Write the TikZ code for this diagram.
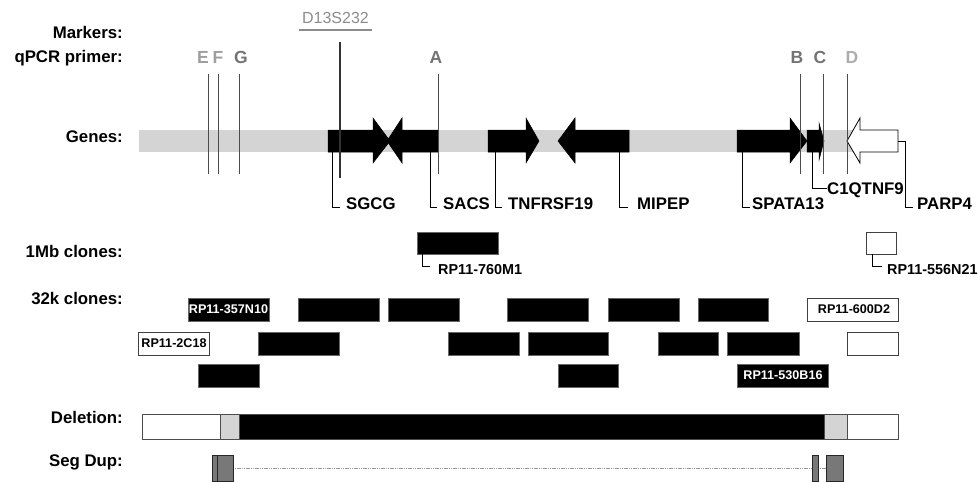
\documentclass[tikz,border=0pt]{standalone}
\usepackage{fontspec}
\setmainfont{Liberation Sans}
\definecolor{band}{gray}{0.83}
\definecolor{segfill}{gray}{0.47}
\definecolor{primlight}{gray}{0.62}
\definecolor{primdark}{gray}{0.45}
\definecolor{primD}{gray}{0.68}
\definecolor{marker}{gray}{0.55}
\begin{document}
\begin{tikzpicture}[x=1pt,y=-1pt,
  rowlab/.style={anchor=east,font=\fontsize{16.8}{18}\selectfont\bfseries,inner sep=0pt},
  genelab/.style={anchor=base west,font=\fontsize{16.8}{18}\selectfont\bfseries,inner sep=0pt},
  primer/.style={anchor=base,font=\fontsize{17.5}{18}\selectfont\bfseries,inner sep=0pt},
  clonelab/.style={anchor=base west,font=\fontsize{14.4}{16}\selectfont\bfseries,inner sep=0pt},
  boxlab/.style={font=\fontsize{12.6}{14}\selectfont\bfseries,inner sep=0pt},
  blk/.style={fill=black,draw=black!60,line width=0.8pt},
  wht/.style={fill=white,draw=black!75,line width=1pt},
  lead/.style={draw=black,line width=1pt},
  pline/.style={draw=black!70,line width=0.9pt},
  gene/.style={fill=black,draw=black,line width=0.5pt},
  seg/.style={fill=segfill,draw=black!85,line width=0.8pt},
]
\useasboundingbox (0,0) rectangle (978,482);

% row labels
\node[rowlab] (lmark) at (123,32) {Markers:};
\node[rowlab] (lqpcr) at (123,58) {qPCR primer:};
\node[rowlab] (lgene) at (123,137) {Genes:};
\node[rowlab] (l1mb)  at (123,251) {1Mb clones:};
\node[rowlab] (l32k)  at (123,299) {32k clones:};
\node[rowlab] (ldel)  at (123,417) {Deletion:};
\node[rowlab] (lseg)  at (123,462) {Seg Dup:};

% gene band
\fill[band] (139,130) rectangle (898,152);

% marker
\node[anchor=base,font=\fontsize{16}{18}\selectfont,text=marker,inner sep=0pt] (d13) at (335.5,23.5) {D13S232};
\draw[marker,line width=1.5pt] (299,30) -- (372,30);

% genes
\draw[gene] (328,130) -- (373,130) -- (373,118) -- (390,141) -- (373,163) -- (373,152) -- (328,152) -- cycle;
\draw[gene] (438,130) -- (402,130) -- (402,118) -- (387,141) -- (402,163) -- (402,152) -- (438,152) -- cycle;
\draw[gene] (488,130) -- (526,130) -- (526,118) -- (539,141) -- (526,163) -- (526,152) -- (488,152) -- cycle;
\draw[gene] (629,130) -- (575,130) -- (575,118) -- (558,141) -- (575,163) -- (575,152) -- (629,152) -- cycle;
\draw[gene] (737,130) -- (790,130) -- (790,118) -- (807,141) -- (790,163) -- (790,152) -- (737,152) -- cycle;
\draw[gene] (807,130) -- (819,130) -- (819,123) -- (824,141) -- (819,160) -- (819,152) -- (807,152) -- cycle;
\draw[fill=white,draw=black,line width=0.8pt] (898,130) -- (860,130) -- (860,118) -- (847,141) -- (860,163) -- (860,152) -- (898,152) -- cycle;

% marker line and primer lines
\draw[black!80,line width=1.4pt] (340,42) -- (340,178);
\node[primer,text=primlight] (pE) at (203,63) {E};
\node[primer,text=primlight] (pF) at (218,63) {F};
\node[primer,text=primdark]  (pG) at (241,63) {G};
\node[primer,text=primdark]  (pA) at (436,63) {A};
\node[primer,text=primdark]  (pB) at (797,63) {B};
\node[primer,text=primdark]  (pC) at (820,63) {C};
\node[primer,text=primD]     (pD) at (852,63) {D};
\foreach \x in {208,218,239,438,800,823,847}
  \draw[pline] (\x,74) -- (\x,174);

% gene labels
\node[genelab] (gSGCG) at (346,209) {SGCG};
\draw[lead] (332,152) -- (332,207) -- (340,207);
\node[genelab] (gSACS) at (443,209) {SACS};
\draw[lead] (430,152) -- (430,207) -- (437,207);
\node[genelab] (gTNF) at (508,209) {TNFRSF19};
\draw[lead] (495,152) -- (495,207) -- (502,207);
\node[genelab] (gMIP) at (637,209) {MIPEP};
\draw[lead] (619,152) -- (619,207) -- (628,207);
\node[genelab] (gSPA) at (752,209) {SPATA13};
\draw[lead] (742,152) -- (742,207) -- (750,207);
\node[genelab] (gC1Q) at (827,194) {C1QTNF9};
\draw[lead] (812,152) -- (812,188) -- (827,188);
\node[genelab] (gPARP) at (917,209) {PARP4};
\draw[lead] (898,141) -- (905,141) -- (905,207) -- (913,207);

% 1Mb clones
\draw[blk] (417,232) rectangle (498,254);
\node[clonelab] (c760) at (438,274) {RP11-760M1};
\draw[lead] (422,254) -- (422,266) -- (430,266);
\draw[wht] (866,232) rectangle (896,254);
\node[clonelab] (c556) at (887,274) {RP11-556N21};
\draw[lead] (872,254) -- (872,266) -- (882,266);

% 32k clones row 1
\draw[blk] (188,298) rectangle (269,321);
\node[boxlab,text=white] (c357) at (228.5,309.5) {RP11-357N10};
\draw[blk] (298,298) rectangle (379,321);
\draw[blk] (388,298) rectangle (459,321);
\draw[blk] (507,298) rectangle (588,321);
\draw[blk] (608,298) rectangle (679,321);
\draw[blk] (698,298) rectangle (768,321);
\draw[wht] (807,298) rectangle (898,321);
\node[boxlab] (c600) at (854,309.5) {RP11-600D2};
% row 2
\draw[wht] (138,332) rectangle (209,355);
\node[boxlab] (c2C18) at (174,343.5) {RP11-2C18};
\draw[blk] (258,332) rectangle (339,355);
\draw[blk] (448,332) rectangle (519,355);
\draw[blk] (528,332) rectangle (608,355);
\draw[blk] (658,332) rectangle (718,355);
\draw[blk] (727,332) rectangle (799,355);
\draw[wht] (847,332) rectangle (898,355);
% row 3
\draw[blk] (198,364) rectangle (259,387);
\draw[blk] (558,364) rectangle (618,387);
\draw[blk] (737,364) rectangle (828,387);
\node[boxlab,text=white] (c530) at (783,375.5) {RP11-530B16};

% deletion
\draw[fill=white,draw=black!70,line width=0.8pt] (142,414) rectangle (220,439);
\draw[fill=band,draw=black!70,line width=0.8pt] (220,414) rectangle (239,439);
\draw[fill=black,draw=black!70,line width=0.8pt] (239,414) rectangle (824,439);
\draw[fill=band,draw=black!70,line width=0.8pt] (824,414) rectangle (847,439);
\draw[fill=white,draw=black!70,line width=0.8pt] (847,414) rectangle (898,439);

% seg dup
\draw[gray!80,line width=0.9pt,dash pattern=on 1.2pt off 0.6pt] (233,468) -- (826,468);
\draw[seg] (212,455) rectangle (217,481);
\draw[seg] (217,455) rectangle (233,481);
\draw[seg] (812,455) rectangle (818,481);
\draw[seg] (826,455) rectangle (843,481);
\end{tikzpicture}
\end{document}
